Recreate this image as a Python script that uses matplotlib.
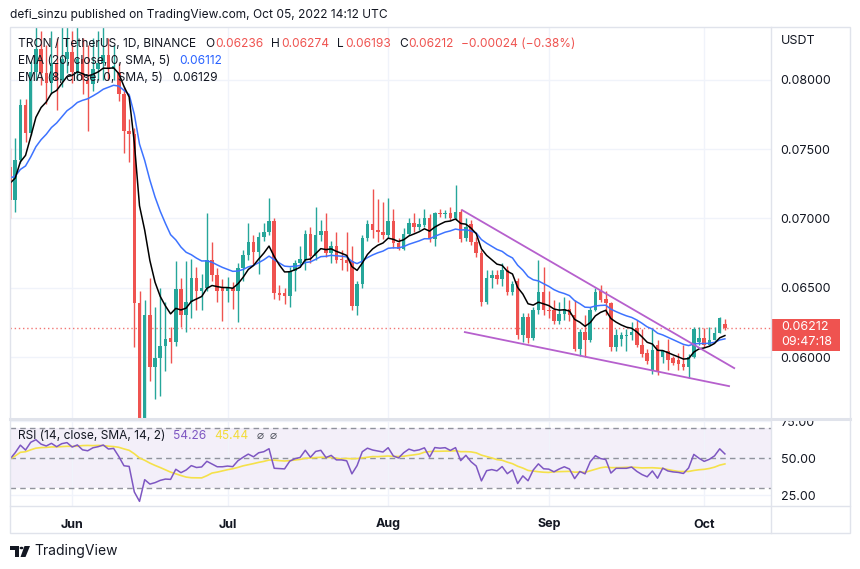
import numpy as np
import pandas as pd
import matplotlib
matplotlib.use("Agg")
import matplotlib.pyplot as plt
from matplotlib.patches import Rectangle, Polygon, Circle
from matplotlib.lines import Line2D
from matplotlib.transforms import Bbox

plt.rcParams['font.family'] = ['Inter', 'DejaVu Sans']

# ---- data ----
dates = pd.date_range("2022-05-20", "2022-10-05", freq="D")

opens = [0.0737, 0.0713, 0.0742, 0.0782, 0.0762, 0.0806, 0.0822, 0.0805, 0.0798, 0.0812,
         0.0800, 0.0815, 0.0820, 0.0806, 0.0815, 0.0800, 0.0797, 0.0808, 0.0812, 0.0818,
         0.0808, 0.0806, 0.0790, 0.0763, 0.0761, 0.0639, 0.0550, 0.0630, 0.0593, 0.0599,
         0.0608, 0.0614, 0.0611, 0.0649, 0.0630, 0.0640, 0.0657, 0.0648, 0.0650, 0.0670,
         0.0659, 0.0650, 0.0648, 0.0650, 0.0648, 0.0664, 0.0674, 0.0683, 0.0676, 0.0687,
         0.0690, 0.0698, 0.0646, 0.0646, 0.0644, 0.0662, 0.0668, 0.0670, 0.0689, 0.0673,
         0.0688, 0.0691, 0.0675, 0.0680, 0.0671, 0.0670, 0.0669, 0.0637, 0.0653, 0.0686,
         0.0696, 0.0692, 0.0690, 0.0688, 0.0698, 0.0682, 0.0678, 0.0689, 0.0697, 0.0694,
         0.0695, 0.0700, 0.0685, 0.0704, 0.0703, 0.0704, 0.0700, 0.0705, 0.0686, 0.0696,
         0.0683, 0.0675, 0.0640, 0.0657, 0.0659, 0.0656, 0.0663, 0.0647, 0.0655, 0.0616,
         0.0629, 0.0614, 0.0634, 0.0647, 0.0634, 0.0634, 0.0626, 0.0631, 0.0635, 0.0630,
         0.0606, 0.0618, 0.0612, 0.0634, 0.0648, 0.0642, 0.0639, 0.0607, 0.0613, 0.0615,
         0.0616, 0.0621, 0.0609, 0.0603, 0.0591, 0.0609, 0.0600, 0.0604, 0.0599, 0.0598,
         0.0595, 0.0593, 0.0600, 0.0611, 0.0614, 0.0609, 0.0612, 0.0617, 0.06236]
highs = [0.0751, 0.0758, 0.0786, 0.0786, 0.0814, 0.0845, 0.0835, 0.0825, 0.0835, 0.0830,
         0.0838, 0.0842, 0.0835, 0.0838, 0.0830, 0.0825, 0.0830, 0.0835, 0.0840, 0.0830,
         0.0825, 0.0812, 0.0795, 0.0772, 0.0765, 0.0648, 0.0641, 0.0657, 0.0636, 0.0650,
         0.0640, 0.0622, 0.0669, 0.0657, 0.0669, 0.0671, 0.0665, 0.0660, 0.0704, 0.0683,
         0.0664, 0.0656, 0.0658, 0.0654, 0.0668, 0.0677, 0.0697, 0.0688, 0.0690, 0.0697,
         0.0715, 0.0700, 0.0652, 0.0650, 0.0665, 0.0670, 0.0680, 0.0692, 0.0694, 0.0708,
         0.0699, 0.0704, 0.0684, 0.0690, 0.0677, 0.0690, 0.0680, 0.0655, 0.0688, 0.0699,
         0.0721, 0.0714, 0.0712, 0.0715, 0.0707, 0.0686, 0.0693, 0.0700, 0.0704, 0.0700,
         0.0707, 0.0703, 0.0705, 0.0707, 0.0706, 0.0708, 0.0724, 0.0707, 0.0700, 0.0699,
         0.0687, 0.0677, 0.0663, 0.0663, 0.0663, 0.0668, 0.0666, 0.0655, 0.0657, 0.0632,
         0.0632, 0.0636, 0.0670, 0.0665, 0.0648, 0.0641, 0.0640, 0.0643, 0.0641, 0.0641,
         0.0620, 0.0630, 0.0636, 0.0650, 0.0652, 0.0648, 0.0640, 0.0620, 0.0618, 0.0620,
         0.0625, 0.0627, 0.0620, 0.0606, 0.0620, 0.0612, 0.0605, 0.0613, 0.0601, 0.0603,
         0.0609, 0.0602, 0.0622, 0.0622, 0.0621, 0.0622, 0.0622, 0.0629, 0.06274]
lows = [0.0700, 0.0705, 0.0740, 0.0755, 0.0760, 0.0800, 0.0796, 0.0783, 0.0790, 0.0778,
        0.0795, 0.0805, 0.0798, 0.0800, 0.0790, 0.0763, 0.0792, 0.0800, 0.0800, 0.0800,
        0.0800, 0.0785, 0.0747, 0.0741, 0.0607, 0.0540, 0.0540, 0.0583, 0.0570, 0.0572,
        0.0590, 0.0596, 0.0608, 0.0622, 0.0618, 0.0628, 0.0634, 0.0634, 0.0648, 0.0655,
        0.0640, 0.0626, 0.0640, 0.0635, 0.0625, 0.0655, 0.0670, 0.0667, 0.0660, 0.0684,
        0.0688, 0.0642, 0.0641, 0.0638, 0.0636, 0.0648, 0.0665, 0.0663, 0.0668, 0.0670,
        0.0684, 0.0672, 0.0668, 0.0668, 0.0663, 0.0662, 0.0634, 0.0630, 0.0650, 0.0684,
        0.0686, 0.0683, 0.0685, 0.0686, 0.0679, 0.0677, 0.0677, 0.0688, 0.0690, 0.0692,
        0.0694, 0.0683, 0.0680, 0.0701, 0.0700, 0.0699, 0.0699, 0.0683, 0.0684, 0.0681,
        0.0672, 0.0637, 0.0638, 0.0650, 0.0653, 0.0651, 0.0645, 0.0645, 0.0613, 0.0611,
        0.0610, 0.0612, 0.0631, 0.0630, 0.0628, 0.0624, 0.0624, 0.0627, 0.0626, 0.0604,
        0.0601, 0.0600, 0.0611, 0.0633, 0.0640, 0.0630, 0.0604, 0.0604, 0.0608, 0.0604,
        0.0612, 0.0607, 0.0600, 0.0595, 0.0588, 0.0587, 0.0596, 0.0591, 0.0594, 0.0591,
        0.0591, 0.0585, 0.0599, 0.0609, 0.0607, 0.0609, 0.0612, 0.0617, 0.06193]
closes = [0.0713, 0.0742, 0.0782, 0.0762, 0.0806, 0.0822, 0.0805, 0.0798, 0.0812, 0.0800,
          0.0815, 0.0820, 0.0806, 0.0815, 0.0800, 0.0797, 0.0808, 0.0812, 0.0818, 0.0808,
          0.0810, 0.0790, 0.0763, 0.0761, 0.0639, 0.0550, 0.0630, 0.0593, 0.0599, 0.0608,
          0.0613, 0.0611, 0.0649, 0.0630, 0.0640, 0.0657, 0.0648, 0.0650, 0.0670, 0.0659,
          0.0648, 0.0648, 0.0650, 0.0648, 0.0664, 0.0674, 0.0683, 0.0676, 0.0687, 0.0690,
          0.0698, 0.0646, 0.0645, 0.0644, 0.0662, 0.0668, 0.0671, 0.0689, 0.0673, 0.0688,
          0.0691, 0.0675, 0.0680, 0.0670, 0.0670, 0.0668, 0.0637, 0.0653, 0.0686, 0.0696,
          0.0692, 0.0690, 0.0688, 0.0698, 0.0682, 0.0678, 0.0689, 0.0697, 0.0694, 0.0696,
          0.0700, 0.0685, 0.0704, 0.0703, 0.0704, 0.0700, 0.0705, 0.0685, 0.0694, 0.0683,
          0.0675, 0.0640, 0.0657, 0.0659, 0.0656, 0.0663, 0.0647, 0.0653, 0.0616, 0.0629,
          0.0614, 0.0634, 0.0647, 0.0634, 0.0633, 0.0626, 0.0631, 0.0635, 0.0630, 0.0606,
          0.0618, 0.0612, 0.0634, 0.0647, 0.0641, 0.0639, 0.0607, 0.0616, 0.0616, 0.0616,
          0.0618, 0.0609, 0.0602, 0.0597, 0.0605, 0.0589, 0.0604, 0.0598, 0.0596, 0.0595,
          0.0593, 0.0600, 0.0620, 0.0614, 0.0609, 0.0612, 0.0617, 0.0628, 0.06212]

# indicator state just before the first visible bar
prev_close = 0.0737
ema8_seed = 0.0729
ema20_seed = 0.0731
rsi_gain_seed = 0.0013
rsi_loss_seed = 0.00115

# trend lines drawn on the chart: (day index, price)
upper_line = ([87.3, 139.8], [0.0706, 0.0592])
lower_line = ([87.8, 138.8], [0.0618, 0.0579])

last_price = 0.06212
price_ticks = [0.060, 0.065, 0.070, 0.075, 0.080]
rsi_ticks = [25, 50, 75]
month_labels = ["Jun", "Jul", "Aug", "Sep", "Oct"]

# colours
UP = '#26a69a'
DOWN = '#ef5350'
TXT = '#131722'
GRID = '#f0f3fa'
BORDER = '#e0e3eb'


def ema(values, span, seed):
    k = 2.0 / (span + 1)
    out = []
    prev = seed
    for v in values:
        prev = prev + k * (v - prev)
        out.append(prev)
    return np.array(out)


def wilder_rsi(values, last, g, l, n=14):
    out = []
    for v in values:
        ch = v - last
        g = (g * (n - 1) + max(ch, 0)) / n
        l = (l * (n - 1) + max(-ch, 0)) / n
        out.append(100 - 100 / (1 + g / l))
        last = v
    return np.array(out)


W, H = 860, 569
def fx(x):
    return x / W
def fy(y):
    return 1 - y / H

o = np.array(opens)
h = np.array(highs)
lo = np.array(lows)
c = np.array(closes)
x = np.arange(len(c))
month_pos = [i for i, d in enumerate(dates) if d.day == 1]

ema8 = ema(c, 8, ema8_seed)
ema20 = ema(c, 20, ema20_seed)
rsi = wilder_rsi(c, prev_close, rsi_gain_seed, rsi_loss_seed)
rsi_ma = pd.Series(rsi).rolling(14, min_periods=1).mean().values

fig = plt.figure(figsize=(W / 100, H / 100), dpi=100)
fig.patch.set_facecolor('white')

ax = fig.add_axes([fx(10), fy(418), 761 / W, 390 / H])
axr = fig.add_axes([fx(10), fy(506), 761 / W, 86 / H])

xmax = 146.9
for a in (ax, axr):
    a.set_xlim(0, xmax)
    for s in a.spines.values():
        s.set_visible(False)
    a.set_xticks(month_pos)
    a.grid(True, color=GRID, lw=1)
    a.set_axisbelow(True)
    a.yaxis.tick_right()
    a.tick_params(length=0, labelsize=9, labelcolor=TXT, pad=7)

# ---- price pane ----
ax.set_ylim(0.05560, 0.08375)
ax.set_yticks(price_ticks)
ax.set_yticklabels(["%.5f" % p for p in price_ticks])
ax.set_xticklabels([])

col = np.where(c >= o, UP, DOWN)
ax.vlines(x, lo, h, colors=col, lw=1, zorder=2)
ax.bar(x, np.maximum(np.abs(c - o), 0.00004), bottom=np.minimum(o, c),
       width=0.68, color=col, lw=0, zorder=3)

ax.axhline(last_price, color=DOWN, lw=1, ls=(0, (1, 2)), alpha=0.8, zorder=1)
ax.plot(x, ema20, color='#3d73ff', lw=1.1, zorder=4)
ax.plot(x, ema8, color='black', lw=1.1, zorder=5)
ax.plot(*upper_line, color='#b660cd', lw=1.3, zorder=6, clip_on=False)
ax.plot(*lower_line, color='#b660cd', lw=1.3, zorder=6, clip_on=False)

# ---- RSI pane ----
axr.set_ylim(17.6, 75.7)
axr.set_yticks(rsi_ticks)
axr.set_yticklabels(["%.2f" % v for v in rsi_ticks])
axr.set_xticklabels(month_labels, fontweight='bold')
axr.tick_params(axis='x', pad=9)
axr.axhspan(30, 70, color='#7e57c2', alpha=0.09, lw=0, zorder=0)
for lvl in (30, 50, 70):
    axr.axhline(lvl, color='#787b86', lw=1, ls=(0, (4, 3)), alpha=0.8, zorder=1)
axr.plot(x, rsi_ma, color='#f5e14a', lw=1.2, zorder=3)
axr.plot(x, rsi, color='#7e57c2', lw=1.1, zorder=4)

# the top RSI label is cut by the pane border, as on the original
clip = Bbox.from_extents(771, H - 506, 850, H - 420)
for tk in axr.yaxis.get_major_ticks():
    tk.label2.set_clip_box(clip)
    tk.label2.set_clip_on(True)

# ---- frame ----
fig.add_artist(Rectangle((fx(10), fy(533)), 840 / W, 506 / H, fill=False,
                         ec=BORDER, lw=1))
fig.add_artist(Line2D([fx(771), fx(771)], [fy(27), fy(533)], color=BORDER, lw=1))
fig.add_artist(Line2D([fx(10), fx(850)], [fy(419), fy(419)], color=BORDER, lw=2.2))
fig.add_artist(Line2D([fx(10), fx(850)], [fy(506), fy(506)], color=BORDER, lw=1))

# ---- price label ----
fig.add_artist(Rectangle((fx(771), fy(351)), 69 / W, 32 / H, color=DOWN, lw=0))
fig.text(fx(781), fy(327), "0.06212", color='white', fontsize=9, va='center')
fig.text(fx(781), fy(342), "09:47:18", color='white', fontsize=9, va='center')
fig.text(fx(781), fy(41), "USDT", color=TXT, fontsize=9, va='center')

# ---- texts ----
fig.text(fx(10), fy(15), "defi_sinzu published on TradingView.com, Oct 05, 2022 14:12 UTC",
         color=TXT, fontsize=8.6, va='center')

renderer = fig.canvas.get_renderer()


def write_row(x0, y, parts, size=8.6):
    xpos = x0
    for s, colr, gap in parts:
        t = fig.text(fx(xpos), fy(y), s, color=colr, fontsize=size, va='center',
                     ha='left', zorder=10)
        xpos = t.get_window_extent(renderer).x1 + gap


write_row(18, 44, [("TRON / TetherUS, 1D, BINANCE", TXT, 9), ("O", TXT, 1),
                   ("0.06236", DOWN, 8), ("H", TXT, 1), ("0.06274", DOWN, 8),
                   ("L", TXT, 1), ("0.06193", DOWN, 8), ("C", TXT, 1),
                   ("0.06212", DOWN, 7), ("\u22120.00024 (\u22120.38%)", DOWN, 0)])
write_row(18, 61, [("EMA (20, close, 0, SMA, 5)", TXT, 9), ("0.06112", '#2962ff', 0)])
write_row(18, 78, [("EMA (8, close, 0, SMA, 5)", TXT, 9), ("0.06129", TXT, 0)])
write_row(18, 436, [("RSI (14, close, SMA, 14, 2)", TXT, 8), ("54.26", '#7e57c2', 8),
                    ("45.44", '#f2dc3a', 8), ("\u2300", '#50535e', 6),
                    ("\u2300", '#50535e', 0)])

# ---- TradingView logo ----
fig.add_artist(Polygon([(fx(10), fy(546)), (fx(19), fy(546)), (fx(19), fy(557)),
                        (fx(15), fy(557)), (fx(15), fy(550)), (fx(10), fy(550))],
                       closed=True, color=TXT, lw=0))
fig.add_artist(Circle((fx(21.5), fy(548)), 1.9 / W, color=TXT, lw=0))
fig.add_artist(Polygon([(fx(24.5), fy(546)), (fx(30), fy(546)), (fx(25.5), fy(557)),
                        (fx(20.5), fy(557))], closed=True, color=TXT, lw=0))
fig.text(fx(34), fy(551), "TradingView", color=TXT, fontsize=10, va='center')

fig.savefig("out.png", dpi=100, facecolor='white')
